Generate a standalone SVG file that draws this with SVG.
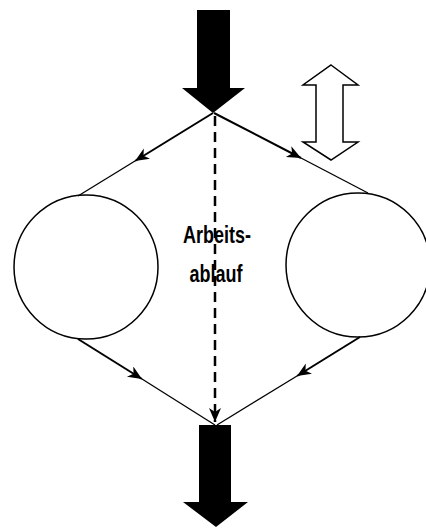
<svg xmlns="http://www.w3.org/2000/svg" width="426" height="528" viewBox="0 0 426 528">
<style>
.ln{fill:none;stroke:#000;stroke-width:1.3}
.lnb{fill:none;stroke:#000;stroke-width:2}
.node{fill:#fff;stroke:#000;stroke-width:1.5}
.blk{fill:#000;stroke:none}
.lbl{font-family:"Liberation Sans",Arial,sans-serif;font-weight:bold;font-size:18px;text-anchor:middle;fill:#000}
</style>
<defs>
<marker id="ah" markerUnits="userSpaceOnUse" markerWidth="16" markerHeight="14" refX="14" refY="6" orient="auto">
<path d="M0,0 L14,6 L0,12 L4,6 z" fill="#000"/>
</marker>
</defs>
<g id="input-arrow">
<path class="blk" d="M197,10 L230,10 L230,88 L245,88 L213,113 L182,88 L197,88 z"/>
</g>
<g id="output-arrow">
<path class="blk" d="M199,425 L231,425 L231,502 L248,502 L216,527 L183,502 L199,502 z"/>
</g>
<g id="adjust-arrow">
<path class="node" d="M331,65 L358,85 L343,85 L343,142 L358,142 L331,160 L303,142 L316,142 L316,85 L303,85 z"/>
</g>
<g id="left-station">
<circle class="node" cx="86" cy="267" r="72"/>
</g>
<g id="right-station">
<circle class="node" cx="358" cy="265" r="72"/>
</g>
<g id="label">
<text class="lbl" transform="translate(217,243) scale(1,1.3)">Arbeits-</text>
<text class="lbl" transform="translate(216,282) scale(1,1.3)">ablauf</text>
</g>
<g id="connectors">
<path class="lnb" d="M213,113 L135,161" marker-end="url(#ah)"/>
<path class="ln" d="M135,161 L78,196"/>
<path class="lnb" d="M214,113 L301,158" marker-end="url(#ah)"/>
<path class="ln" d="M301,158 L368,193"/>
<path class="lnb" d="M78,339 L142,379" marker-end="url(#ah)"/>
<path class="ln" d="M142,379 L215,425"/>
<path class="lnb" d="M360,337 L297,376" marker-end="url(#ah)"/>
<path class="ln" d="M297,376 L217,425"/>
<path d="M215,116 L215,422" fill="none" stroke="#000" stroke-width="2.5" stroke-dasharray="10,6" marker-end="url(#ah)"/>
</g>
</svg>
